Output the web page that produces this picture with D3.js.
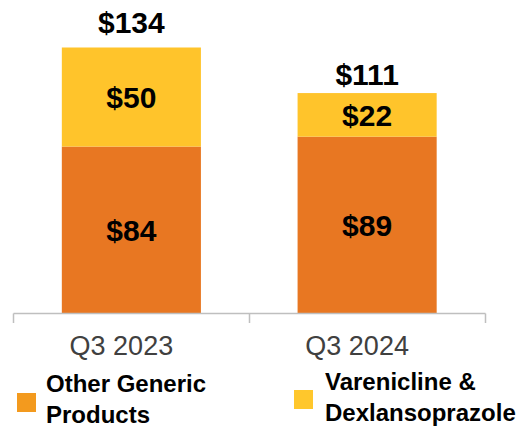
<!DOCTYPE html>
<html><head><meta charset="utf-8">
<script src="https://cdn.jsdelivr.net/npm/d3@7"></script>
<style>body{margin:0;background:#fff}svg{display:block}text{font-family:Arial,"Liberation Sans",sans-serif}</style>
</head><body><svg id="c" width="519" height="429"></svg>
<script>
const categories = ["Q3 2023", "Q3 2024"];
const otherGeneric = [84, 89];
const varenicline = [50, 22];
const totals = [134, 111];
const seriesNames = ["Other Generic Products", "Varenicline & Dexlansoprazole"];

const svg = d3.select("#c");
const x = d3.scaleBand().domain(categories).range([13.5, 485]).paddingInner(0.41).paddingOuter(0.205);
const y = d3.scaleLinear().domain([0, 134]).range([313, 47.5]);

const data = categories.map((c, i) => ({cat: c, other: otherGeneric[i], var: varenicline[i], total: totals[i]}));
const stack = d3.stack().keys(["other", "var"])(data);
const colors = {other: "#E87722", var: "#FFC42B"};

stack.forEach(layer => {
  svg.append("g").selectAll("rect").data(layer).join("rect")
    .attr("x", d => x(d.data.cat))
    .attr("width", x.bandwidth())
    .attr("y", d => y(d[1]))
    .attr("height", d => y(d[0]) - y(d[1]))
    .attr("fill", colors[layer.key]);
  svg.append("g").selectAll("text").data(layer).join("text")
    .attr("x", d => x(d.data.cat) + x.bandwidth() / 2)
    .attr("y", d => (y(d[0]) + y(d[1])) / 2 + 11)
    .attr("text-anchor", "middle")
    .attr("font-size", 30).attr("font-weight", "bold").attr("fill", "#000")
    .text(d => "$" + (d[1] - d[0]));
});

const totalGap = [14.5, 8];
svg.append("g").selectAll("text").data(data).join("text")
  .attr("x", d => x(d.cat) + x.bandwidth() / 2)
  .attr("y", (d, i) => y(d.total) - totalGap[i])
  .attr("text-anchor", "middle")
  .attr("font-size", 30).attr("font-weight", "bold").attr("fill", "#000")
  .text(d => "$" + d.total);

// axis
const ax = svg.append("g").attr("stroke", "#BFBFBF").attr("stroke-width", 1.5);
ax.append("line").attr("x1", 13.5).attr("x2", 485.5).attr("y1", 313.5).attr("y2", 313.5);
[13.5, 13.5 + (485.5 - 13.5) / 2, 485.5].forEach(v => {
  ax.append("line").attr("x1", v).attr("x2", v).attr("y1", 313.5).attr("y2", 323);
});
svg.append("g").selectAll("text").data(categories).join("text")
  .attr("x", d => x(d) + x.bandwidth() / 2 - 10)
  .attr("y", 355)
  .attr("text-anchor", "middle")
  .attr("font-size", 27).attr("fill", "#404040")
  .text(d => d);

// legend
const leg = [
  {name: seriesNames[0], lines: ["Other Generic", "Products"], color: "#F39A1E", sx: 17, sy: 393, tx: 46, ty: 392},
  {name: seriesNames[1], lines: ["Varenicline &", "Dexlansoprazole"], color: "#FFC72C", sx: 294, sy: 390, tx: 325, ty: 390}
];
leg.forEach(l => {
  svg.append("rect").attr("x", l.sx).attr("y", l.sy).attr("width", 19).attr("height", 19).attr("fill", l.color);
  const t = svg.append("text").attr("font-size", 24).attr("font-weight", "bold").attr("fill", "#000");
  l.lines.forEach((s, i) => t.append("tspan").attr("x", l.tx).attr("y", l.ty + i * 30.5).text(s));
});
</script></body></html>
